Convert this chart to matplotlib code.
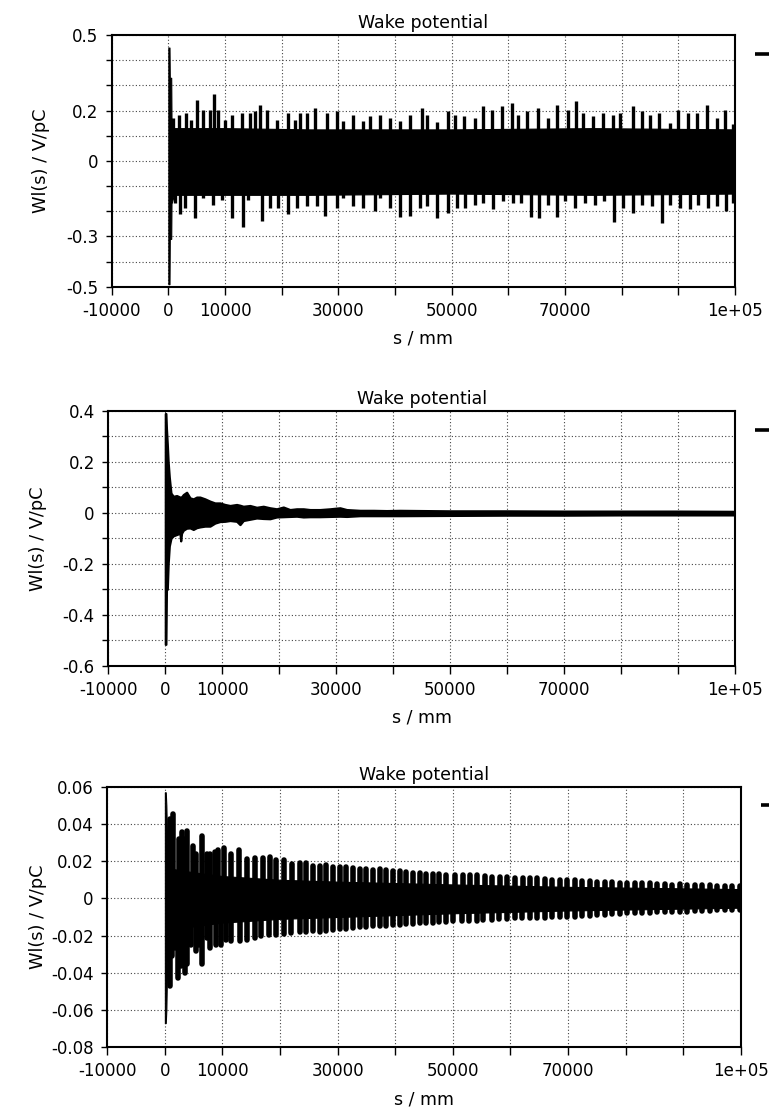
import matplotlib
matplotlib.use("Agg")
import matplotlib.pyplot as plt
from matplotlib.lines import Line2D
from matplotlib.ticker import FixedLocator, FixedFormatter

plt.rcParams['font.family'] = ['DejaVu Sans']
plt.rcParams['axes.unicode_minus'] = False

W, H = 769, 1112

# ---------------- shared axis data ----------------
title = "Wake potential"
x_label = "s / mm"
y_label = "Wl(s) / V/pC"
x_ticks = [-10000, 0, 10000, 20000, 30000, 40000, 50000, 60000, 70000, 80000, 90000, 100000]
x_tick_labels = ['-10000', '0', '10000', '', '30000', '', '50000', '', '70000', '', '', '1e+05']

# ---------------- panel 1 ----------------
y1_ticks = [0.5, 0.4, 0.3, 0.2, 0.1, 0.0, -0.1, -0.2, -0.3, -0.4, -0.5]
y1_labels = ['0.5', '', '', '0.2', '', '0', '', '', '-0.3', '', '-0.5']
s_core1 = [0, 200, 250, 500, 550, 800, 1000, 10000, 25000, 50000, 75000, 100000]
up_core1 = [0.45, 0.45, 0.33, 0.33, 0.17, 0.15, 0.13, 0.13, 0.125, 0.125, 0.13, 0.125]
lo_core1 = [-0.49, -0.49, -0.31, -0.31, -0.17, -0.15, -0.135, -0.135, -0.135, -0.13, -0.135, -0.13]
s_up1 = [880, 1940, 3120, 4000, 5000, 6180, 7350, 8120, 8820, 10000, 11180, 12940, 14410,
         15290, 16180, 17350, 19120, 21180, 22350, 23240, 24410, 25880, 27940, 29710, 30880,
         32650, 34410, 35590, 37350, 39120, 40880, 42650, 44710, 45590, 47350, 49410,
         50590, 52180, 54120, 55590, 57060, 58820, 60590, 61760, 63350, 65290, 67060, 68530,
         70590, 71940, 73230, 75000, 76760, 78530, 79700, 81940, 83520, 85000, 86650, 88520,
         89990, 91760, 93230, 95110, 96760, 98230, 99700]
v_up1 = [0.17, 0.184, 0.19, 0.164, 0.24, 0.204, 0.204, 0.266, 0.204, 0.164, 0.184, 0.19, 0.19,
         0.197, 0.221, 0.204, 0.164, 0.19, 0.164, 0.19, 0.19, 0.21, 0.19, 0.197, 0.158,
         0.184, 0.158, 0.177, 0.184, 0.171, 0.158, 0.184, 0.21, 0.184, 0.155, 0.2,
         0.184, 0.177, 0.171, 0.217, 0.204, 0.217, 0.23, 0.184, 0.197, 0.21, 0.171, 0.221,
         0.204, 0.237, 0.19, 0.177, 0.19, 0.184, 0.19, 0.217, 0.197, 0.184, 0.19, 0.151,
         0.204, 0.19, 0.19, 0.221, 0.171, 0.204, 0.145]
s_lo1 = [1180, 2060, 2940, 4700, 6180, 7940, 9410, 11180, 13120, 14120, 16470, 17940, 19410,
         21180, 22650, 24410, 26180, 27650, 29700, 30880, 32650, 34410, 36470, 37350, 39120,
         40880, 42650, 44410, 45590, 47350, 49410,
         50880, 52350, 54120, 55590, 57350, 59110, 60880, 62170, 63940, 65470, 67060, 68520,
         69990, 71760, 73520, 75290, 76880, 78640, 80290, 81930, 83520, 85290, 87170, 88520,
         90290, 92060, 93530, 95290, 96760, 98410, 99700]
v_lo1 = [-0.167, -0.213, -0.187, -0.226, -0.147, -0.174, -0.154, -0.226, -0.264, -0.154, -0.237,
         -0.187, -0.187, -0.21, -0.187, -0.18, -0.18, -0.22, -0.187, -0.147, -0.18, -0.187,
         -0.2, -0.147, -0.187, -0.224, -0.22, -0.187, -0.18, -0.229, -0.207,
         -0.187, -0.187, -0.174, -0.167, -0.193, -0.16, -0.167, -0.167, -0.224, -0.229, -0.174,
         -0.224, -0.16, -0.187, -0.167, -0.174, -0.16, -0.242, -0.187, -0.207, -0.174, -0.18,
         -0.246, -0.174, -0.187, -0.193, -0.174, -0.187, -0.18, -0.2, -0.167]

# ---------------- panel 2 ----------------
y2_ticks = [0.4, 0.3, 0.2, 0.1, 0.0, -0.1, -0.2, -0.3, -0.4, -0.5, -0.6]
y2_labels = ['0.4', '', '0.2', '', '0', '', '-0.2', '', '-0.4', '', '-0.6']
s2 = [0, 100, 200, 350, 500, 700, 990, 1400, 1990, 2570, 2700, 2850, 3160, 3740, 4330, 4910,
      5500, 6080, 6960, 7840, 8710, 9590, 10470, 11350, 12510, 13100, 13680, 14850, 16020,
      17190, 18360, 19530, 20700, 21870, 23040, 24210, 25380, 27130, 28890, 30640, 31810,
      34150, 36490, 38830, 41170, 50000, 60000, 70000, 80000, 90000, 100000]
up2 = [0.39, 0.39, 0.33, 0.27, 0.2, 0.14, 0.078, 0.065, 0.068, 0.062, 0.06, 0.063, 0.072,
       0.081, 0.059, 0.055, 0.062, 0.062, 0.055, 0.046, 0.039, 0.039, 0.033, 0.029, 0.033,
       0.03, 0.026, 0.029, 0.022, 0.026, 0.02, 0.016, 0.023, 0.013, 0.016, 0.016, 0.013,
       0.013, 0.016, 0.02, 0.013, 0.01, 0.01, 0.009, 0.01, 0.008, 0.008, 0.007, 0.007,
       0.007, 0.006]
lo2 = [-0.516, -0.516, -0.3, -0.3, -0.2, -0.13, -0.10, -0.09, -0.085, -0.08, -0.11, -0.08,
       -0.068, -0.06, -0.059, -0.065, -0.058, -0.055, -0.052, -0.052, -0.04, -0.034, -0.033,
       -0.03, -0.033, -0.046, -0.03, -0.025, -0.02, -0.022, -0.023, -0.016, -0.015, -0.014,
       -0.013, -0.016, -0.015, -0.015, -0.014, -0.013, -0.014, -0.011, -0.011, -0.011,
       -0.011, -0.01, -0.009, -0.009, -0.008, -0.008, -0.008]

# ---------------- panel 3 ----------------
y3_ticks = [0.06, 0.04, 0.02, 0.0, -0.02, -0.04, -0.06, -0.08]
y3_labels = ['0.06', '0.04', '0.02', '0', '-0.02', '-0.04', '-0.06', '-0.08']
s_core3 = [0, 150, 250, 400, 1000, 5000, 10000, 20000, 30000, 50000, 70000, 100000]
up_core3 = [0.057, 0.057, 0.05, 0.03, 0.016, 0.014, 0.012, 0.010, 0.009, 0.0075, 0.0062, 0.005]
lo_core3 = [-0.067, -0.067, -0.06, -0.035, -0.018, -0.015, -0.013, -0.011, -0.010, -0.008,
            -0.0065, -0.005]
s_up3 = [870, 1330, 2430, 2890, 3290, 3870, 4910, 5320, 6360, 7400, 7920, 8670, 9250, 10290,
         11560, 12890, 14280, 15720, 17050, 18320, 19360, 20640, 22140, 23410, 24570, 25720,
         26880, 28030, 29190, 30350, 31500, 32660, 33820, 34970, 36130, 37280, 38440, 39600,
         40750, 41910, 43060, 44220, 45380, 46530, 47690, 48840,
         50400, 51730, 53000, 54280, 55610, 56880, 58210, 59480, 60810, 62140, 63410, 64680,
         66010, 67280, 68610, 69880, 71210, 72490, 73820, 75090, 76420, 77690, 79020, 80290,
         81620, 82890, 84220, 85490, 86820, 88090, 89420, 90690, 92020, 93290, 94620, 95900,
         97230, 98500, 99830]
v_up3 = [0.0426, 0.0453, 0.032, 0.0359, 0.032, 0.0364, 0.0284, 0.024, 0.0337, 0.024, 0.024,
         0.0249, 0.0258, 0.0272, 0.024, 0.0258, 0.0211, 0.0217, 0.0217, 0.0222, 0.0204, 0.0204,
         0.0187, 0.0192, 0.0192, 0.0174, 0.0174, 0.0178, 0.0169, 0.0169, 0.0169, 0.0163, 0.016,
         0.016, 0.0151, 0.0156, 0.0151, 0.0146, 0.0146, 0.0142, 0.0139, 0.0139, 0.0133, 0.0133,
         0.0133, 0.0128,
         0.0124, 0.0128, 0.0124, 0.0128, 0.012, 0.0115, 0.0115, 0.0115, 0.011, 0.0107, 0.0107,
         0.0107, 0.0103, 0.0101, 0.0098, 0.0098, 0.0098, 0.0092, 0.0092, 0.0089, 0.0089, 0.0089,
         0.0085, 0.0083, 0.008, 0.008, 0.008, 0.0078, 0.0076, 0.0074, 0.0075, 0.0071, 0.0071,
         0.0071, 0.0071, 0.0067, 0.0067, 0.0067, 0.0067]
s_lo3 = [870, 1270, 1730, 2310, 2720, 3470, 3870, 4620, 5380, 5950, 6530, 7230, 7920, 8960,
         9830, 10690, 11560, 13010, 14280, 15610, 16760, 18090, 19360, 20640, 21970, 23410,
         24570, 25720, 26880, 28030, 29190, 30350, 31500, 32660, 33820, 34970, 36130, 37280,
         38440, 39600, 40750, 41910, 43060, 44220, 45380, 46530, 47690, 48840,
         50120, 51560, 52830, 54160, 55320, 56760, 58090, 59360, 60810, 61970, 63410, 64680,
         66010, 67280, 68610, 69880, 71210, 72490, 73820, 75090, 76420, 77690, 79020, 80290,
         81620, 82890, 84220, 85490, 86820, 88090, 89420, 90690, 92020, 93290, 94620, 95900,
         97230, 98500, 99830]
v_lo3 = [-0.0471, -0.0311, -0.0266, -0.0426, -0.0364, -0.04, -0.0355, -0.025, -0.0284, -0.0249,
         -0.0355, -0.0213, -0.0266, -0.0249, -0.0249, -0.0222, -0.0231, -0.0227, -0.0222,
         -0.0213, -0.0204, -0.0195, -0.0195, -0.0192, -0.0186, -0.0178, -0.0178, -0.0174,
         -0.0178, -0.0174, -0.0169, -0.0163, -0.0163, -0.016, -0.0156, -0.0156, -0.0151,
         -0.0151, -0.0146, -0.0142, -0.0142, -0.0139, -0.0139, -0.0133, -0.0133, -0.0133,
         -0.0128, -0.0128,
         -0.0124, -0.0124, -0.0121, -0.0121, -0.0115, -0.0115, -0.011, -0.011, -0.0107, -0.0107,
         -0.0107, -0.0103, -0.0103, -0.0099, -0.0099, -0.0098, -0.0098, -0.0094, -0.0092,
         -0.0089, -0.0089, -0.0085, -0.0085, -0.008, -0.008, -0.0076, -0.0076, -0.0075, -0.0075,
         -0.0071, -0.0071, -0.0071, -0.0067, -0.0067, -0.0067, -0.0064, -0.0064, -0.0064, -0.0062]

# ---------------- layout (pixels) ----------------
panels = [
    dict(box=(111.7, 35.0, 735.0, 286.7), ylim=(-0.5, 0.5), yt=y1_ticks, yl=y1_labels, ylab_x=50),
    dict(box=(108.3, 411.0, 735.3, 665.7), ylim=(-0.6, 0.4), yt=y2_ticks, yl=y2_labels, ylab_x=47),
    dict(box=(107.3, 786.7, 740.7, 1047.3), ylim=(-0.08, 0.06), yt=y3_ticks, yl=y3_labels, ylab_x=47),
]

fig = plt.figure(figsize=(W / 100, H / 100), dpi=100)
axes = []
for p in panels:
    x0, y0, x1, y1 = p['box']
    ax = fig.add_axes([x0 / W, 1 - y1 / H, (x1 - x0) / W, (y1 - y0) / H])
    ax.set_xlim(-10000, 100000)
    ax.set_ylim(*p['ylim'])
    ax.xaxis.set_major_locator(FixedLocator(x_ticks))
    ax.xaxis.set_major_formatter(FixedFormatter(x_tick_labels))
    ax.yaxis.set_major_locator(FixedLocator(p['yt']))
    ax.yaxis.set_major_formatter(FixedFormatter(p['yl']))
    ax.tick_params(axis='x', direction='out', length=5.8, width=1.0, pad=5, labelsize=12)
    ax.tick_params(axis='y', direction='out', length=4.2, width=1.0, pad=5.5, labelsize=12)
    ax.grid(True, linestyle=(0, (1, 2)), color='#444444', linewidth=0.8, zorder=0)
    ax.set_axisbelow(True)
    for sp in ax.spines.values():
        sp.set_linewidth(1.5)
        sp.set_color('black')
    ax.set_title(title, fontsize=12.5, pad=5)
    ax.set_xlabel(x_label, fontsize=12.5)
    ax.set_ylabel(y_label, fontsize=12.8)
    hpx = y1 - y0
    wpx = x1 - x0
    ax.xaxis.set_label_coords(0.5, -43 / hpx)
    ax.yaxis.set_label_coords((p['ylab_x'] - x0) / wpx, 0.5)
    # legend dash (cut off at the right edge)
    yy = 1 - (y0 + 18.5) / H
    fig.add_artist(Line2D([(x1 + 20) / W, 1.0], [yy, yy], transform=fig.transFigure,
                          color='black', linewidth=2.6, solid_capstyle='butt'))
    axes.append(ax)

ax1, ax2, ax3 = axes

# panel 1
ax1.fill_between(s_core1, lo_core1, up_core1, color='black', linewidth=0.8, zorder=3)
ax1.vlines(s_up1, 0, v_up1, colors='black', linewidth=2.4, zorder=3)
ax1.vlines(s_lo1, 0, v_lo1, colors='black', linewidth=2.4, zorder=3)

# panel 2
ax2.fill_between(s2, lo2, up2, color='black', linewidth=1.6, zorder=3)

# panel 3
ax3.fill_between(s_core3, lo_core3, up_core3, color='black', linewidth=0.8, zorder=3)
ax3.vlines(s_up3, 0, v_up3, colors='black', linewidth=4.0, zorder=3, capstyle='round')
ax3.vlines(s_lo3, 0, v_lo3, colors='black', linewidth=4.0, zorder=3, capstyle='round')

fig.savefig('out.png', dpi=100)
